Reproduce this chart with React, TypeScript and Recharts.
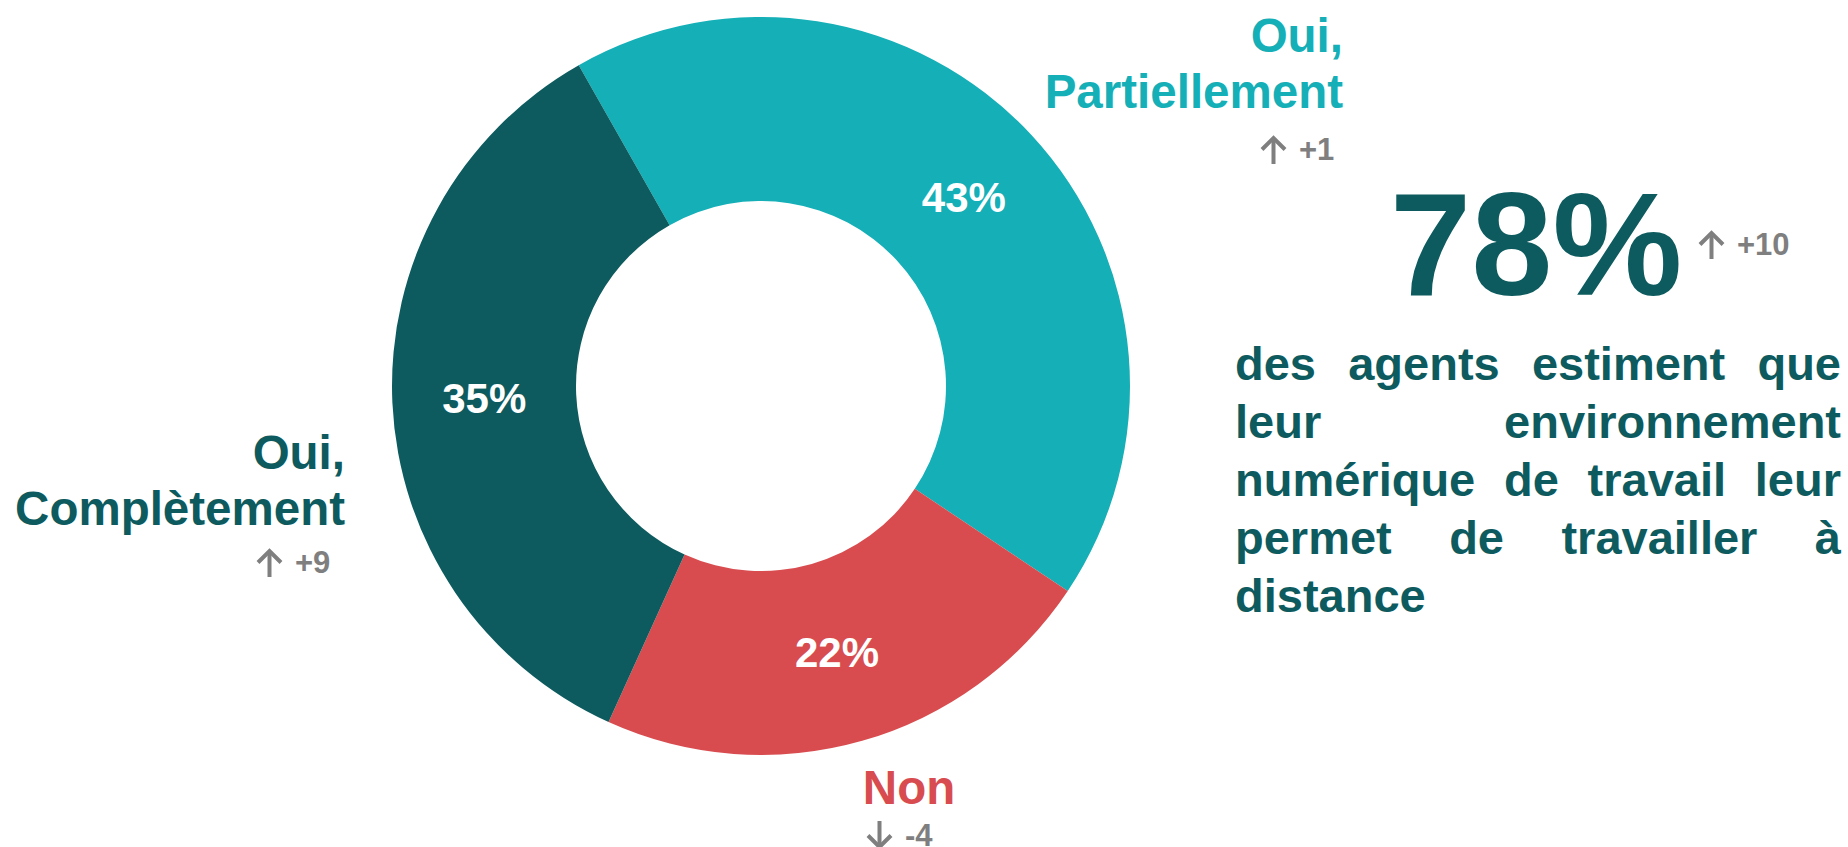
import React from "react";
import { PieChart, Pie, Cell } from "recharts";

// réponses (ordre horaire depuis le haut gauche)
const CATEGORIES = ["Oui, Partiellement", "Non", "Oui, Complètement"];
const VALUES = [42.6, 22.4, 35.0];
const DELTAS = ["+1", "-4", "+9"];
const COLORS = ["#14AFB7", "#D84C4F", "#0D5B5E"];

const HEADLINE = "78%";
const HEADLINE_DELTA = "+10";
const HEADLINE_TEXT =
  "des agents estiment que leur environnement numérique de travail leur permet de travailler à distance";

const FONT = "'Liberation Sans', Arial, sans-serif";
const GREY = "#7F7F7F";
const DARK = "#0D5B5E";
const RADIAN = Math.PI / 180;

const data = CATEGORIES.map((name, i) => ({ name, value: VALUES[i] }));

function renderInnerLabel(props: any) {
  const { cx, cy, midAngle, innerRadius, outerRadius, value } = props;
  const r = (innerRadius + outerRadius) / 2;
  const x = cx + r * Math.cos(-midAngle * RADIAN);
  const y = cy + r * Math.sin(-midAngle * RADIAN);
  return (
    <text
      x={x}
      y={y}
      fill="#fff"
      textAnchor="middle"
      dominantBaseline="central"
      style={{ fontFamily: FONT, fontWeight: 700, fontSize: 42 }}
    >
      {Math.round(value)}%
    </text>
  );
}

// petite flèche + évolution, en gris
function Delta({ value, left, top }: { value: string; left: number; top: number }) {
  const down = value.startsWith("-");
  return (
    <div style={{ position: "absolute", left, top, height: 29, display: "flex", alignItems: "center", gap: 12 }}>
      <svg width={27} height={29} style={{ transform: down ? "scaleY(-1)" : undefined }}>
        <line x1={13.5} y1={29} x2={13.5} y2={3} stroke={GREY} strokeWidth={4} />
        <polyline points="2,14.5 13.5,3 25,14.5" fill="none" stroke={GREY} strokeWidth={4} />
      </svg>
      <span
        style={{
          fontFamily: FONT,
          fontWeight: 700,
          fontSize: 31,
          lineHeight: "29px",
          color: GREY,
          whiteSpace: "nowrap",
        }}
      >
        {value}
      </span>
    </div>
  );
}

export default function App() {
  const [oui, partiel] = CATEGORIES[0].split(" ");
  const [oui2, complet] = CATEGORIES[2].split(" ");
  const labelStyle: React.CSSProperties = {
    position: "absolute",
    fontFamily: FONT,
    fontWeight: 700,
    fontSize: 47.5,
    lineHeight: "56px",
    whiteSpace: "nowrap",
  };

  return (
    <div style={{ position: "absolute", left: 0, top: 0, width: 1848, height: 847, background: "#fff", overflow: "hidden" }}>
      <PieChart width={1848} height={847}>
        <Pie
          data={data}
          dataKey="value"
          cx={756}
          cy={381}
          innerRadius={185}
          outerRadius={369}
          startAngle={119.6}
          endAngle={-240.4}
          stroke="none"
          labelLine={false}
          label={renderInnerLabel}
          isAnimationActive={false}
        >
          {data.map((_, i) => (
            <Cell key={`cell-${i}`} fill={COLORS[i]} />
          ))}
        </Pie>
      </PieChart>

      {/* étiquettes extérieures */}
      <div style={{ ...labelStyle, right: 1848 - 1343, top: 8, textAlign: "right", color: COLORS[0] }}>
        {oui}
        <br />
        {partiel}
      </div>
      <Delta value={DELTAS[0]} left={1260} top={135} />

      <div style={{ ...labelStyle, left: 909, top: 760, transform: "translateX(-50%)", color: COLORS[1] }}>
        {CATEGORIES[1]}
      </div>
      <Delta value={DELTAS[1]} left={866} top={821} />

      <div style={{ ...labelStyle, right: 1848 - 345, top: 425, textAlign: "right", color: COLORS[2] }}>
        {oui2}
        <br />
        {complet}
      </div>
      <Delta value={DELTAS[2]} left={256} top={548} />

      {/* chiffre clé */}
      <div
        style={{
          position: "absolute",
          left: 1390,
          top: 171,
          fontFamily: FONT,
          fontWeight: 700,
          fontSize: 146,
          lineHeight: "148px",
          color: DARK,
          whiteSpace: "nowrap",
        }}
      >
        {HEADLINE}
      </div>
      <Delta value={HEADLINE_DELTA} left={1698} top={230} />
      <div
        style={{
          position: "absolute",
          left: 1235,
          top: 335,
          width: 606,
          fontFamily: FONT,
          fontWeight: 700,
          fontSize: 47,
          lineHeight: "58px",
          color: DARK,
          textAlign: "justify",
        }}
      >
        {HEADLINE_TEXT}
      </div>
    </div>
  );
}
